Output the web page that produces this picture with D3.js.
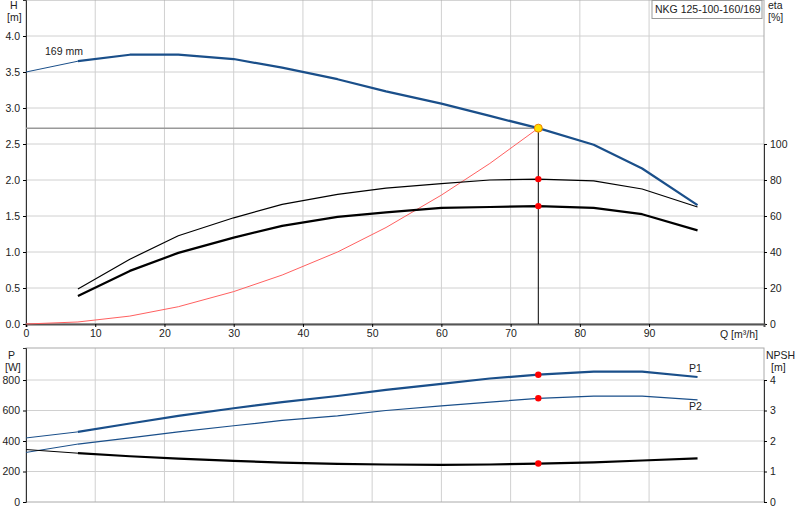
<!DOCTYPE html><html><head><meta charset="utf-8"><script src="https://cdn.jsdelivr.net/npm/d3@7"></script>
<style>body{margin:0;background:#fff}text{font-family:"Liberation Sans",Arial,sans-serif;font-size:10.5px;fill:#222}</style></head><body><svg id="c" width="800" height="520"></svg>
<script>
const qH=[0,7.5,15,22,30,37,45,52,60,67,74,82,89,97];
const headH=[3.5,3.65,3.74,3.74,3.68,3.56,3.4,3.23,3.06,2.89,2.72,2.49,2.16,1.65];
const qE=[7.5,15,22,30,37,45,52,60,67,74,82,89,97];
const etaTotal=[19.5,36,49,59,66.5,72,75.5,78,80,80.5,79.5,75,65];
const etaPump=[15.5,29.5,39.5,48,54.5,59.5,62,64.5,65,65.5,64.5,61,52];
const sysQ=[0,7.5,15,22,30,37,45,52,60,67,74];
const sysH=[0,0.028,0.11,0.24,0.45,0.68,1.0,1.34,1.79,2.23,2.72];
const p1=[420,460,515,565,615,655,695,735,775,810,835,855,855,820];
const p2=[325,380,420,460,500,535,565,600,630,655,680,695,695,670];
const npsh=[1.72,1.6,1.5,1.42,1.35,1.29,1.25,1.23,1.22,1.23,1.26,1.3,1.36,1.43];
const duty={q:74,h:2.72,eta1:80.5,eta2:65.5,p1:835,p2:680,npsh:1.26};
const qTicks=[0,10,20,30,40,50,60,70,80,90];
const hTicks=[0,0.5,1,1.5,2,2.5,3,3.5,4];
const etaTicks=[0,20,40,60,80,100];
const pTicks=[0,200,400,600,800];
const nTicks=[0,1,2,3,4];

const svg=d3.select("#c");
const L=26,R=764;
const x=d3.scaleLinear().domain([0,106.6]).range([L,R]);
const yH=d3.scaleLinear().domain([0,4.5]).range([324,0]);
const yE=d3.scaleLinear().domain([0,100]).range([324,144]);
const yP=d3.scaleLinear().domain([0,1010]).range([502,348]);
const yN=d3.scaleLinear().domain([0,4]).range([502,380]);
const blue="#1a4f8a";
function grid(t,b,ys,yscale){
  const g=svg.append("g");
  g.selectAll(".v").data(qTicks.slice(1)).join("line").attr("x1",d=>x(d)).attr("x2",d=>x(d)).attr("y1",t).attr("y2",b).attr("stroke","#d0d0d0");
  g.selectAll(".h").data(ys).join("line").attr("x1",L).attr("x2",R).attr("y1",d=>yscale(d)).attr("y2",d=>yscale(d)).attr("stroke","#d0d0d0");
  g.append("rect").attr("x",L).attr("y",t).attr("width",R-L).attr("height",b-t).attr("fill","none").attr("stroke","#aaa");
}
grid(0,324,hTicks.slice(1),yH);
grid(348,502,pTicks.slice(1),yP);
function axisL(ticks,sc,fmt){const a=svg.append("g").attr("transform",`translate(${L},0)`).call(d3.axisLeft(sc).tickValues(ticks).tickFormat(fmt).tickSize(3));a.select(".domain").attr("stroke","#333");a.selectAll("text").style("font-size","10.5px").style("font-family","Liberation Sans");}
function axisR(ticks,sc){const a=svg.append("g").attr("transform",`translate(${R},0)`).call(d3.axisRight(sc).tickValues(ticks).tickFormat(d3.format("d")).tickSize(3));a.select(".domain").attr("stroke","#333");a.selectAll("text").style("font-size","10.5px").style("font-family","Liberation Sans");}
axisL(hTicks,yH,d3.format(".1f"));
axisR(etaTicks,yE);
axisL(pTicks,yP,d3.format("d"));
axisR(nTicks,yN);
const ax=svg.append("g").attr("transform","translate(0,324)").call(d3.axisBottom(x).tickValues(qTicks).tickSize(3));
ax.select(".domain").attr("stroke","#555").attr("stroke-width",2);ax.selectAll("text").style("font-size","10.5px").style("font-family","Liberation Sans");
svg.append("text").attr("x",720).attr("y",338).text("Q [m³/h]");
[["H",10,9],["[m]",7,21],["P",8,359],["[W]",5,371]].forEach(d=>svg.append("text").attr("x",d[1]).attr("y",d[2]).text(d[0]));
[["eta",768,9],["[%]",768,21],["NPSH",766,359],["[m]",771,371]].forEach(d=>svg.append("text").attr("x",d[1]).attr("y",d[2]).text(d[0]));
svg.append("rect").attr("x",652).attr("y",0.5).attr("width",110).attr("height",18).attr("fill","#fff").attr("stroke","#999");
svg.append("text").attr("x",655).attr("y",13).text("NKG 125-100-160/169");
svg.append("line").attr("x1",L).attr("x2",x(duty.q)).attr("y1",yH(duty.h)).attr("y2",yH(duty.h)).attr("stroke","#999").attr("stroke-width",1.5);
svg.append("line").attr("x1",x(duty.q)).attr("x2",x(duty.q)).attr("y1",yH(duty.h)).attr("y2",324).attr("stroke","#000");
const line=(xs,ys,sy)=>d3.line().x((d,i)=>x(xs[i])).y(d=>sy(d))(ys);
function path(d,c,w){svg.append("path").attr("d",d).attr("fill","none").attr("stroke",c).attr("stroke-width",w).attr("stroke-linejoin","round");}
path(line(sysQ,sysH,yH),"#ff6060",1);
path(line(qH.slice(0,2),headH.slice(0,2),yH),blue,1);
path(line(qH.slice(1),headH.slice(1),yH),blue,2.2);
path(line(qE,etaTotal,yE),"#000",1.2);
path(line(qE,etaPump,yE),"#000",2.2);
path(line(qH.slice(0,2),p1.slice(0,2),yP),blue,1);
path(line(qH.slice(1),p1.slice(1),yP),blue,2.2);
path(line(qH.slice(0,2),p2.slice(0,2),yP),blue,1);
path(line(qH.slice(1),p2.slice(1),yP),blue,1.2);
path(line(qH.slice(0,2),npsh.slice(0,2),yN),"#000",1);
path(line(qH.slice(1),npsh.slice(1),yN),"#000",2.2);
svg.append("text").attr("x",45).attr("y",55).text("169 mm");
svg.append("text").attr("x",689).attr("y",372).text("P1");
svg.append("text").attr("x",689).attr("y",410).text("P2");
[[yE(duty.eta1)],[yE(duty.eta2)],[yP(duty.p1)],[yP(duty.p2)],[yN(duty.npsh)]].forEach(d=>svg.append("circle").attr("cx",x(duty.q)).attr("cy",d[0]).attr("r",3.2).attr("fill","#f00"));
svg.append("circle").attr("cx",x(duty.q)).attr("cy",yH(duty.h)).attr("r",4).attr("fill","#ffe000").attr("stroke","#f08000");
</script></body></html>
